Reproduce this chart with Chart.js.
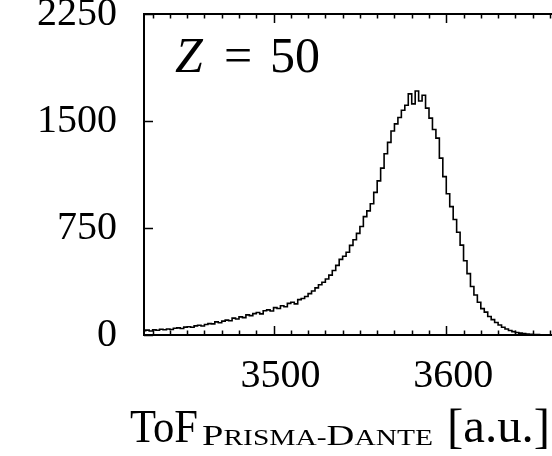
<!DOCTYPE html>
<html>
<head>
<meta charset="utf-8">
<script src="https://cdn.jsdelivr.net/npm/chart.js@4.4.1/dist/chart.umd.min.js"></script>
<style>
  html, body { margin: 0; padding: 0; background: #fff; overflow: hidden; }
  #wrap { position: relative; width: 552px; height: 456px; overflow: hidden; }
  #tofChart { position: absolute; left: 0; top: 0; }
</style>
</head>
<body>
<div id="wrap"><canvas id="tofChart" width="660" height="456"></canvas></div>
<script>
// histogram of ToF, bins of 2 a.u. starting at 3424
var binStart = 3424;
var binWidth = 2;
var counts = [
  30, 34, 28, 36, 33, 40, 37, 42, 39, 47,
  50, 46, 55, 58, 54, 64, 68, 63, 74, 80,
  78, 92, 86, 97, 104, 100, 118, 112, 127, 122,
  141, 136, 150, 158, 148, 170, 176, 168, 192, 186,
  205, 198, 222, 230, 218, 248, 256, 270, 290, 308,
  330, 352, 370, 392, 420, 452, 488, 530, 552, 580,
  628, 668, 712, 760, 830, 870, 920, 1000, 1080, 1170,
  1270, 1350, 1430, 1480, 1525, 1575, 1610, 1690, 1620, 1710,
  1640, 1680, 1590, 1520, 1440, 1380, 1240, 1110, 990, 900,
  810, 720, 630, 520, 430, 340, 280, 230, 185, 160,
  130, 108, 88, 70, 54, 42, 32, 24, 18, 13,
  10, 7, 5, 4, 3, 2, 2, 1, 1,
  0, 0, 0, 0, 0, 0, 0, 0, 0, 0, 0, 0, 0, 0, 0, 0, 0, 0, 0
];
var xTickLabels = [3500, 3600, 3700];
var yTickLabels = [0, 750, 1500, 2250];
var panelLabel = ["Z", "=", "50"];

var serif = "'Liberation Serif', 'DejaVu Serif', serif";

var points = counts.map(function (c, i) {
  return { x: binStart + binWidth * i + binWidth / 2, y: c };
});

// draw a run of text pieces squeezed/stretched to a given width
function drawRun(ctx, pieces, x0, width, baseline) {
  var total = 0;
  pieces.forEach(function (p) {
    ctx.font = (p.italic ? "italic " : "") + p.s + "px " + serif;
    p.w = ctx.measureText(p.t).width;
    total += p.w;
  });
  ctx.save();
  ctx.translate(x0, 0);
  ctx.scale(width / total, 1);
  var cx = 0;
  pieces.forEach(function (p) {
    ctx.font = (p.italic ? "italic " : "") + p.s + "px " + serif;
    ctx.fillText(p.t, cx, baseline + (p.dy || 0));
    cx += p.w;
  });
  ctx.restore();
}

var framePlugin = {
  id: "frame",
  afterDatasetsDraw: function (chart) {
    var ctx = chart.ctx, a = chart.chartArea;
    var xs = chart.scales.x, ys = chart.scales.y;
    ctx.save();
    ctx.strokeStyle = "#000";
    ctx.lineWidth = 2;
    ctx.strokeRect(a.left, a.top, a.right - a.left, a.bottom - a.top);
    ctx.lineWidth = 1.5;
    ctx.beginPath();
    xs.ticks.forEach(function (t) {
      var px = Math.round(xs.getPixelForValue(t.value)) + 0.5;
      var len = xTickLabels.indexOf(t.value) >= 0 ? 9 : 4.5;
      ctx.moveTo(px, a.bottom); ctx.lineTo(px, a.bottom - len);
      ctx.moveTo(px, a.top); ctx.lineTo(px, a.top + len);
    });
    ys.ticks.forEach(function (t) {
      var py = Math.round(ys.getPixelForValue(t.value)) + 0.5;
      ctx.moveTo(a.left, py); ctx.lineTo(a.left + 9, py);
      ctx.moveTo(a.right, py); ctx.lineTo(a.right - 9, py);
    });
    ctx.stroke();
    ctx.restore();
  },
  afterDraw: function (chart) {
    var ctx = chart.ctx;
    ctx.save();
    ctx.fillStyle = "#000";
    ctx.textBaseline = "alphabetic";
    // panel label  Z = 50
    ctx.font = "italic 50px " + serif;
    ctx.fillText(panelLabel[0], 175, 72);
    ctx.font = "50px " + serif;
    ctx.fillText(panelLabel[1], 224, 72);
    ctx.fillText(panelLabel[2], 270, 72);

    // axis title with small-caps subscript
    drawRun(ctx, [{ t: "ToF", s: 46 }], 130, 68, 442);
    drawRun(ctx, [
      { t: "P", s: 30 },
      { t: "RISMA-", s: 23 },
      { t: "D", s: 30 },
      { t: "ANTE", s: 23 }
    ], 202, 231, 445);
    drawRun(ctx, [{ t: "[a.u.]", s: 48 }], 447, 103, 442);
    ctx.restore();
  }
};

var chart = new Chart(document.getElementById("tofChart").getContext("2d"), {
  type: "line",
  data: {
    datasets: [
      {
        data: points,
        borderColor: "#000",
        borderWidth: 1.6,
        stepped: "middle",
        pointRadius: 0,
        fill: false
      }
    ]
  },
  options: {
    responsive: false,
    animation: false,
    layout: { padding: { left: 0, top: 14, right: 41, bottom: 0 } },
    plugins: { legend: { display: false }, tooltip: { enabled: false } },
    scales: {
      x: {
        type: "linear",
        min: 3425,
        max: 3700,
        grid: { display: false, drawTicks: false },
        border: { display: false },
        ticks: {
          stepSize: 10,
          includeBounds: false,
          autoSkip: false,
          maxRotation: 0,
          padding: 17,
          labelOffset: 7,
          color: "#000",
          font: { family: serif, size: 40 },
          callback: function (v) {
            return xTickLabels.indexOf(v) >= 0 ? String(v) : "";
          }
        },
        afterFit: function (s) {
          s.height = 121;
          s.paddingLeft = 0;
          s.paddingRight = 0;
        }
      },
      y: {
        min: 0,
        max: 2250,
        grid: { display: false, drawTicks: false },
        border: { display: false },
        ticks: {
          stepSize: 750,
          padding: 27,
          color: "#000",
          font: { family: serif, size: 40 },
          callback: function (v) {
            return yTickLabels.indexOf(v) >= 0 ? String(v) : "";
          }
        },
        afterFit: function (s) {
          s.width = 144;
          s.paddingTop = 0;
          s.paddingBottom = 0;
        }
      }
    }
  },
  plugins: [framePlugin]
});
</script>
</body>
</html>
